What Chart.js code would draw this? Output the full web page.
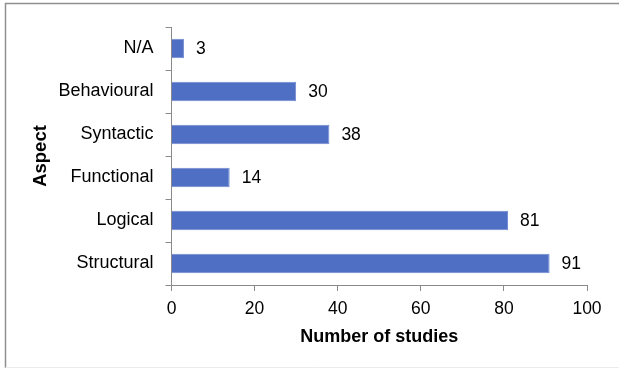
<!DOCTYPE html>
<html>
<head>
<meta charset="utf-8">
<script src="https://cdn.jsdelivr.net/npm/chart.js@4/dist/chart.umd.min.js"></script>
<style>
  html, body { margin: 0; padding: 0; background: #fff; }
  #wrap { position: relative; width: 619px; height: 368px; }
</style>
</head>
<body>
<div id="wrap"><canvas id="chart" width="619" height="368"></canvas></div>
<script>
// Studies per aspect, listed top to bottom
const aspects = ['N/A', 'Behavioural', 'Syntactic', 'Functional', 'Logical', 'Structural'];
const studyCounts = [3, 30, 38, 14, 81, 91];
const xTicks = [0, 20, 40, 60, 80, 100];

const FONT = "'Liberation Sans', Arial, sans-serif";
const AXIS_GREY = '#8a8a8a';

// Value labels to the right of each bar
const valueLabels = {
  id: 'valueLabels',
  afterDatasetsDraw(chart) {
    const ctx = chart.ctx;
    const meta = chart.getDatasetMeta(0);
    ctx.save();
    ctx.font = '17.5px ' + FONT;
    ctx.fillStyle = '#000';
    ctx.textAlign = 'left';
    ctx.textBaseline = 'middle';
    meta.data.forEach((bar, i) => {
      ctx.fillText(String(chart.data.datasets[0].data[i]), bar.x + 12, bar.y + 1);
    });
    ctx.restore();
  }
};

// Outer frame around the figure
const frame = {
  id: 'frame',
  afterDraw(chart) {
    const ctx = chart.ctx;
    ctx.save();
    ctx.strokeStyle = '#8f8f8f';
    ctx.lineWidth = 1.5;
    ctx.beginPath();
    ctx.moveTo(5.5, 368);
    ctx.lineTo(5.5, 3.5);
    ctx.lineTo(619, 3.5);
    ctx.stroke();
    ctx.strokeStyle = '#ececec';
    ctx.lineWidth = 1;
    ctx.beginPath();
    ctx.moveTo(5.5, 367.5);
    ctx.lineTo(619, 367.5);
    ctx.stroke();
    ctx.restore();
  }
};

new Chart(document.getElementById('chart'), {
  type: 'bar',
  data: {
    labels: aspects,
    datasets: [{
      data: studyCounts,
      backgroundColor: '#4f6fc4',
      borderColor: '#7089d0',
      borderWidth: 1,
      barPercentage: 0.45,
      categoryPercentage: 1
    }]
  },
  options: {
    indexAxis: 'y',
    responsive: false,
    animation: false,
    devicePixelRatio: 1,
    layout: { padding: { left: 6, right: 32, top: 27, bottom: 0 } },
    plugins: { legend: { display: false }, tooltip: { enabled: false } },
    scales: {
      x: {
        min: 0,
        max: 100,
        afterBuildTicks(scale) { scale.ticks = xTicks.map(v => ({ value: v })); },
        afterFit(scale) { scale.height = 83; },
        grid: { drawOnChartArea: false, color: AXIS_GREY, tickLength: 6, lineWidth: 1 },
        border: { color: AXIS_GREY, width: 1 },
        ticks: { color: '#000', font: { family: FONT, size: 17.5 }, padding: 8, maxRotation: 0 },
        title: {
          display: true,
          text: 'Number of studies',
          color: '#000',
          font: { family: FONT, size: 18, weight: 'bold' },
          padding: { top: 0, bottom: 20 }
        }
      },
      y: {
        afterFit(scale) { scale.width = 165.5; },
        grid: { drawOnChartArea: false, color: AXIS_GREY, tickLength: 6, lineWidth: 1, offset: true },
        border: { color: AXIS_GREY, width: 1 },
        ticks: { color: '#000', font: { family: FONT, size: 18 }, padding: 12 },
        title: {
          display: true,
          text: 'Aspect',
          color: '#000',
          font: { family: FONT, size: 18.5, weight: 'bold' },
          padding: { top: 24, bottom: 0 }
        }
      }
    }
  },
  plugins: [valueLabels, frame]
});
</script>
</body>
</html>
